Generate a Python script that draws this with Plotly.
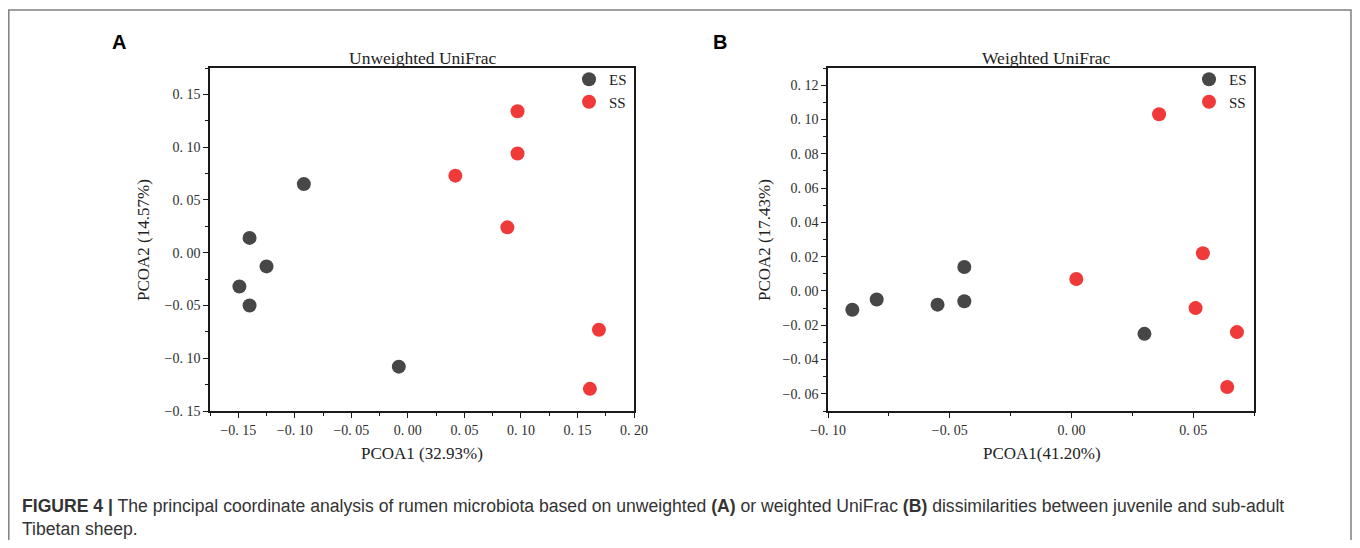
import plotly.graph_objects as go

# page body has an 8px margin: figure sized to fill the window exactly
OFF = 8
W, H = 1360 - 2 * OFF, 548 - 2 * OFF

# ---------------- data ----------------
groups = ["ES", "SS"]
colors = {"ES": "#474747", "SS": "#f03a3a"}

a_es_x = [-0.092, -0.140, -0.125, -0.149, -0.140, -0.008]
a_es_y = [0.065, 0.014, -0.013, -0.032, -0.050, -0.108]
a_ss_x = [0.097, 0.097, 0.042, 0.088, 0.169, 0.161]
a_ss_y = [0.134, 0.094, 0.073, 0.024, -0.073, -0.129]

b_es_x = [-0.090, -0.080, -0.055, -0.044, -0.044, 0.030]
b_es_y = [-0.011, -0.005, -0.008, 0.014, -0.006, -0.025]
b_ss_x = [0.036, 0.002, 0.054, 0.051, 0.068, 0.064]
b_ss_y = [0.103, 0.007, 0.022, -0.010, -0.024, -0.056]

a_xticks = [-0.15, -0.10, -0.05, 0.00, 0.05, 0.10, 0.15, 0.20]
a_yticks = [-0.15, -0.10, -0.05, 0.00, 0.05, 0.10, 0.15]
b_xticks = [-0.10, -0.05, 0.00, 0.05]
b_yticks = [-0.06, -0.04, -0.02, 0.00, 0.02, 0.04, 0.06, 0.08, 0.10, 0.12]

a_title = "Unweighted UniFrac"
b_title = "Weighted UniFrac"
a_xlabel, a_ylabel = "PCOA1 (32.93%)", "PCOA2 (14.57%)"
b_xlabel, b_ylabel = "PCOA1(41.20%)", "PCOA2 (17.43%)"
caption1 = ("<b>FIGURE 4 |</b> The principal coordinate analysis of rumen microbiota based on unweighted "
            "<b>(A)</b> or weighted UniFrac <b>(B)</b> dissimilarities between juvenile and sub-adult")
caption2 = "Tibetan sheep."


def fmt(v, nd=2):
    s = f"{abs(v):.{nd}f}".replace(".", ". ")
    return ("\u2212" + s) if v < -1e-12 else s


def px(x):
    return (x - OFF) / W


def py(y):
    return 1 - (y - OFF) / H


SERIF = "Liberation Serif"
fig = go.Figure()

for g, xs, ys in [("ES", a_es_x, a_es_y), ("SS", a_ss_x, a_ss_y)]:
    fig.add_trace(go.Scatter(x=xs, y=ys, mode="markers", name=g, legend="legend",
                             marker=dict(size=14, color=colors[g], line=dict(width=0)),
                             xaxis="x", yaxis="y"))
for g, xs, ys in [("ES", b_es_x, b_es_y), ("SS", b_ss_x, b_ss_y)]:
    fig.add_trace(go.Scatter(x=xs, y=ys, mode="markers", name=g, legend="legend2",
                             marker=dict(size=14, color=colors[g], line=dict(width=0)),
                             xaxis="x2", yaxis="y2"))

axis_common = dict(showline=True, linecolor="#1a1a1a", linewidth=1.5, mirror=True,
                   ticks="outside", ticklen=5, tickwidth=1.3, tickcolor="#1a1a1a",
                   showgrid=False, zeroline=False, automargin=False,
                   tickfont=dict(family=SERIF, size=14, color="#2e2e2e"))

leg_common = dict(xanchor="right", yanchor="top", bgcolor="rgba(0,0,0,0)",
                  font=dict(family=SERIF, size=15, color="#222"),
                  tracegroupgap=0, itemwidth=30)

fig.update_layout(
    template="none",
    width=W, height=H,
    margin=dict(l=0, r=0, t=0, b=0, pad=0, autoexpand=False),
    paper_bgcolor="white", plot_bgcolor="white",
    xaxis=dict(domain=[px(210), px(634)], range=[-0.175, 0.20], anchor="y",
               tickvals=a_xticks, ticktext=[fmt(v) for v in a_xticks],
               minor=dict(tickvals=[-0.175, -0.125, -0.075, -0.025, 0.025, 0.075, 0.125, 0.175],
                          ticks="outside", ticklen=3, tickcolor="#1a1a1a"),
               **axis_common),
    yaxis=dict(domain=[py(411), py(68)], range=[-0.15, 0.175], anchor="x",
               tickvals=a_yticks, ticktext=[fmt(v) for v in a_yticks],
               minor=dict(tickvals=[-0.125, -0.075, -0.025, 0.025, 0.075, 0.125, 0.175],
                          ticks="outside", ticklen=3, tickcolor="#1a1a1a"),
               **axis_common),
    xaxis2=dict(domain=[px(828), px(1254)], range=[-0.10, 0.075], anchor="y2",
                tickvals=b_xticks, ticktext=[fmt(v) for v in b_xticks],
                minor=dict(tickvals=[-0.075, -0.025, 0.025, 0.075],
                           ticks="outside", ticklen=3, tickcolor="#1a1a1a"),
                **axis_common),
    yaxis2=dict(domain=[py(411), py(68)], range=[-0.07, 0.13], anchor="x2",
                tickvals=b_yticks, ticktext=[fmt(v) for v in b_yticks],
                minor=dict(tickvals=[-0.07, -0.05, -0.03, -0.01, 0.01, 0.03, 0.05, 0.07, 0.09, 0.11, 0.13],
                           ticks="outside", ticklen=3, tickcolor="#1a1a1a"),
                **axis_common),
    legend=dict(x=px(632), y=py(63), **leg_common),
    legend2=dict(x=px(1252), y=py(63), **leg_common),
    showlegend=True,
)

ann = []
# panel letters
ann.append(dict(text="<b>A</b>", x=px(119), y=py(42), font=dict(family="Liberation Sans", size=20, color="black")))
ann.append(dict(text="<b>B</b>", x=px(720), y=py(42), font=dict(family="Liberation Sans", size=20, color="black")))
# titles
ann.append(dict(text=a_title, x=px(422), y=py(58), font=dict(family=SERIF, size=17.5, color="#222")))
ann.append(dict(text=b_title, x=px(1046), y=py(58), font=dict(family=SERIF, size=17.5, color="#222")))
# axis labels
ann.append(dict(text=a_xlabel, x=px(422), y=py(453), font=dict(family=SERIF, size=17, color="#222")))
ann.append(dict(text=b_xlabel, x=px(1042), y=py(453), font=dict(family=SERIF, size=17, color="#222")))
ann.append(dict(text=a_ylabel, x=px(143), y=py(240), textangle=-90, font=dict(family=SERIF, size=17, color="#222")))
ann.append(dict(text=b_ylabel, x=px(764), y=py(240), textangle=-90, font=dict(family=SERIF, size=17, color="#222")))
# caption
ann.append(dict(text=caption1, x=px(20), y=py(506), xanchor="left",
                font=dict(family="Liberation Sans", size=17.6, color="#333333")))
ann.append(dict(text=caption2, x=px(20), y=py(529), xanchor="left",
                font=dict(family="Liberation Sans", size=17.6, color="#333333")))
for a in ann:
    a.setdefault("xanchor", "center")
    a.update(xref="paper", yref="paper", yanchor="middle", showarrow=False)
fig.update_layout(annotations=ann)

# outer frame
fig.add_shape(type="rect", xref="paper", yref="paper", x0=px(8.8), x1=px(1351), y0=py(600), y1=py(10),
              line=dict(color="#808080", width=1.5), fillcolor="rgba(0,0,0,0)", layer="below")

fig.write_html("out.html")
